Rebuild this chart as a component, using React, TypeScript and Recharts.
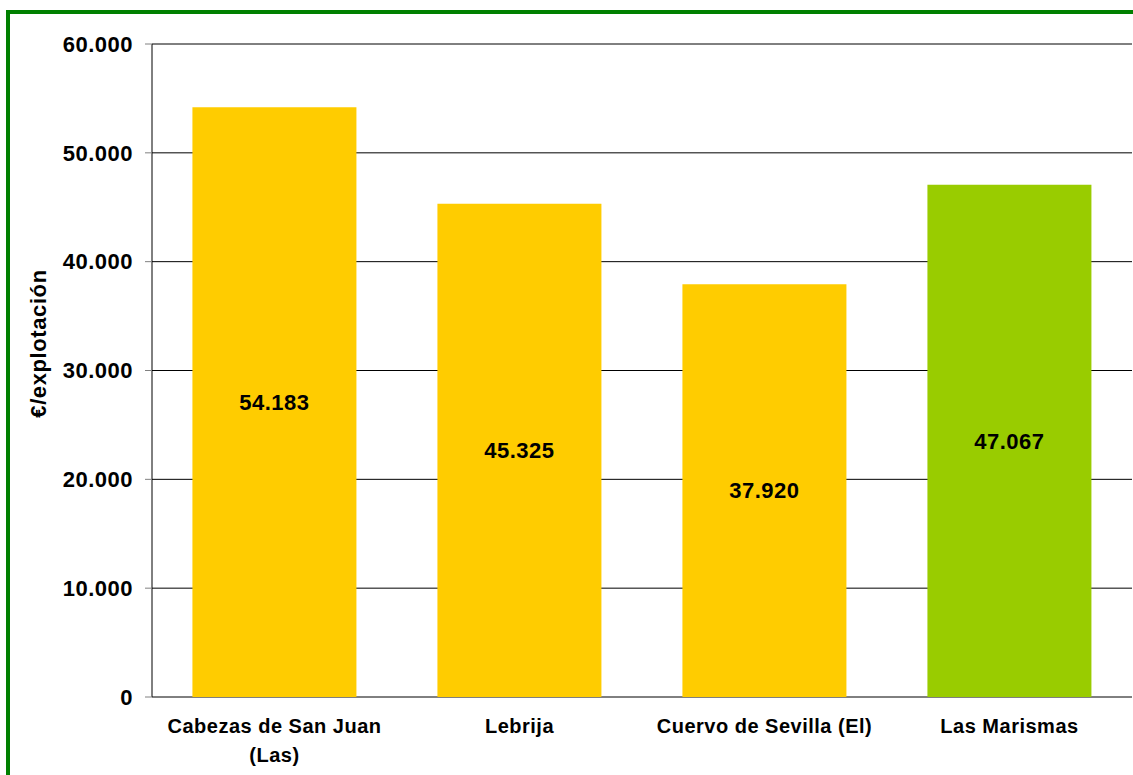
import { BarChart, Bar, XAxis, YAxis, CartesianGrid, Cell, LabelList } from "recharts"

const municipios = ["Cabezas de San Juan (Las)", "Lebrija", "Cuervo de Sevilla (El)", "Las Marismas"]
const tickLines = [["Cabezas de San Juan", "(Las)"], ["Lebrija"], ["Cuervo de Sevilla (El)"], ["Las Marismas"]]
const valores = [54183, 45325, 37920, 47067]
const colores = ["#FFCC00", "#FFCC00", "#FFCC00", "#99CC00"]
const yTicks = [0, 10000, 20000, 30000, 40000, 50000, 60000]
const limites = [0, 1, 2, 3, 4]

const FONT = '"Liberation Sans", Arial, sans-serif'

const fmt = (v: number) => String(v).replace(/\B(?=(\d{3})+(?!\d))/g, ".")

const data = municipios.map((name, i) => ({ name, value: valores[i] }))

function CategoryTick(props: any) {
  const { x, y, payload } = props
  const lines = tickLines[payload.index] || [payload.value]
  return (
    <text x={x} y={y} textAnchor="middle" fontFamily={FONT} fontSize={20} fontWeight="bold" letterSpacing={0.5} fill="#000">
      {lines.map((l, i) => (
        <tspan key={i} x={x} dy={i === 0 ? 28 : 29}>{l}</tspan>
      ))}
    </text>
  )
}

function YLabel(props: any) {
  const vb = props.viewBox || { x: 0, y: 0, height: 0 }
  const cx = vb.x + 46
  const cy = vb.y + vb.height / 2 - 27
  return (
    <text x={cx} y={cy} transform={`rotate(-90, ${cx}, ${cy})`} textAnchor="middle" fontFamily={FONT} fontSize={22} fontWeight="bold" letterSpacing={0.6} fill="#000">
      €/explotación
    </text>
  )
}

export default function App() {
  return (
    <div style={{ position: "absolute", left: 0, top: 0, width: 1133, height: 775, background: "#fff", overflow: "hidden" }}>
      <div style={{ position: "absolute", left: 6, top: 10, width: 1300, height: 900, border: "4px solid #008000" }} />
      <div style={{ position: "absolute", left: 0, top: 0 }}>
        <BarChart width={1133} height={775} data={data} margin={{ top: 44, right: 1, bottom: 0, left: 0 }} barCategoryGap="16.5%">
          <CartesianGrid vertical={false} stroke="#000" strokeWidth={1} />
          <XAxis
            xAxisId="lim"
            type="number"
            domain={[0, 4]}
            ticks={limites}
            interval={0}
            allowDataOverflow
            height={0}
            tick={false}
            tickSize={6}
            tickLine={{ stroke: "#404040", strokeWidth: 1.5 }}
            axisLine={{ stroke: "#404040", strokeWidth: 2 }}
          />
          <XAxis
            dataKey="name"
            height={78}
            tickLine={false}
            axisLine={false}
            interval={0}
            tick={<CategoryTick />}
          />
          <YAxis
            width={152}
            domain={[0, 60000]}
            ticks={yTicks}
            interval={0}
            tickFormatter={fmt}
            tickSize={7}
            tickMargin={12}
            tickLine={{ stroke: "#808080" }}
            axisLine={{ stroke: "#000" }}
            tick={{ fontFamily: FONT, fontSize: 22, fontWeight: "bold", fill: "#000", letterSpacing: 0.5 }}
            label={<YLabel />}
          />
          <YAxis
            yAxisId="der"
            orientation="right"
            width={0}
            domain={[0, 60000]}
            tick={false}
            tickLine={false}
            axisLine={{ stroke: "#707070", strokeWidth: 2 }}
          />
          <Bar dataKey="value" isAnimationActive={false}>
            {data.map((d, i) => (
              <Cell key={d.name} fill={colores[i]} />
            ))}
            <LabelList
              dataKey="value"
              position="center"
              formatter={(v: any) => fmt(Number(v))}
              style={{ fontFamily: FONT, fontSize: 22, fontWeight: "bold", fill: "#000", letterSpacing: 0.5 }}
            />
          </Bar>
        </BarChart>
      </div>
    </div>
  )
}
